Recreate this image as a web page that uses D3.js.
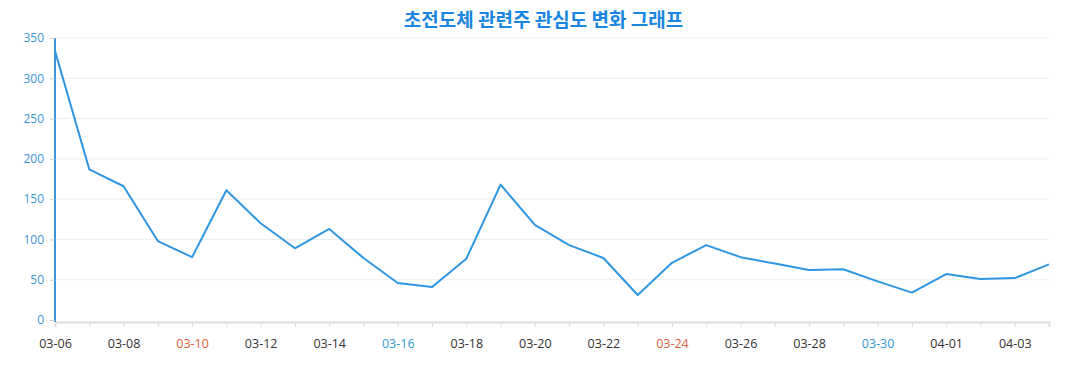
<!DOCTYPE html>
<html>
<head>
<meta charset="utf-8">
<script src="https://cdn.jsdelivr.net/npm/d3@7"></script>
<style>
  body { margin: 0; background: #fff; }
  svg { display: block; font-family: "Open Sans", "Noto Sans", sans-serif; }
</style>
</head>
<body>
<div id="chart"></div>
<script>
// 초전도체 관련주 관심도 line chart (D3 v7)

const width = 1077;
const height = 390;
const margin = { top: 38, right: 28, bottom: 69, left: 55 };

const dates = ['03-06', '03-07', '03-08', '03-09', '03-10', '03-11', '03-12', '03-13', '03-14', '03-15',
	'03-16', '03-17', '03-18', '03-19', '03-20', '03-21', '03-22', '03-23', '03-24', '03-25',
	'03-26', '03-27', '03-28', '03-29', '03-30', '03-31', '04-01', '04-02', '04-03', '04-04'];
const interest = [334, 187, 166, 98, 78, 161, 120, 89, 113, 77,
	46, 41, 76, 168, 118, 93, 77, 31, 71, 93,
	78, 70, 62, 63, 48, 34, 57, 51, 52, 69];
const yTicks = [0, 50, 100, 150, 200, 250, 300, 350];
const redLabels = ['03-10', '03-24'];
const blueLabels = ['03-16', '03-30'];

const svg = d3.select('#chart')
	.append('svg')
	.attr('width', width)
	.attr('height', height);

const x = d3.scalePoint()
	.domain(dates)
	.range([margin.left, width - margin.right]);

const y = d3.scaleLinear()
	.domain([0, 350])
	.range([height - margin.bottom - 1, margin.top]);

// title
svg.append('text')
	.attr('x', width / 2 + 5)
	.attr('y', 27)
	.attr('text-anchor', 'middle')
	.style('font-family', '"Noto Sans CJK KR", "Noto Sans", sans-serif')
	.style('font-size', '19px')
	.style('font-weight', '700')
	.attr('fill', '#1a86e0')
	.text('초전도체 관련주 관심도 변화 그래프');

// grid
svg.append('g')
	.selectAll('line')
	.data(yTicks.slice(1))
	.enter()
	.append('line')
	.attr('x1', margin.left)
	.attr('x2', width - margin.right)
	.attr('y1', d => y(d))
	.attr('y2', d => y(d))
	.attr('stroke', '#eeeeee')
	.attr('stroke-width', 1);

// x axis
const xAxis = svg.append('g')
	.attr('transform', `translate(0, ${height - margin.bottom + 1})`)
	.call(d3.axisBottom(x).tickSize(5).tickFormat((d, i) => i % 2 === 0 ? d : ''));

xAxis.attr('font-family', '"Open Sans", sans-serif');
xAxis.select('.domain').attr('stroke', '#dddddd').attr('stroke-width', 2);
xAxis.selectAll('.tick line').attr('stroke', '#dddddd');
xAxis.selectAll('.tick text')
	.attr('dy', '1.4em')
	.style('font-size', '12.5px')
	.attr('fill', d => redLabels.includes(d) ? '#e0603e' : blueLabels.includes(d) ? '#2e9bd2' : '#333333');

// y axis
const yAxis = svg.append('g')
	.attr('transform', `translate(${margin.left}, 0)`)
	.call(d3.axisLeft(y).tickValues(yTicks).tickSize(5).tickPadding(6));

yAxis.attr('font-family', '"Open Sans", sans-serif');
yAxis.select('.domain').attr('stroke', '#3a96d8').attr('stroke-width', 2).attr('d', `M0,${y(0) + 2}V${y(350)}`);
yAxis.selectAll('.tick line').attr('stroke', '#cccccc');
yAxis.selectAll('.tick text')
	.style('font-size', '12px')
	.attr('fill', '#3a96d8');

// line
const line = d3.line()
	.x((d, i) => x(dates[i]))
	.y(d => y(d));

svg.append('path')
	.datum(interest)
	.attr('d', line)
	.attr('fill', 'none')
	.attr('stroke', '#2e96e2')
	.attr('stroke-width', 2)
	.attr('stroke-linejoin', 'round');
</script>
</body>
</html>
